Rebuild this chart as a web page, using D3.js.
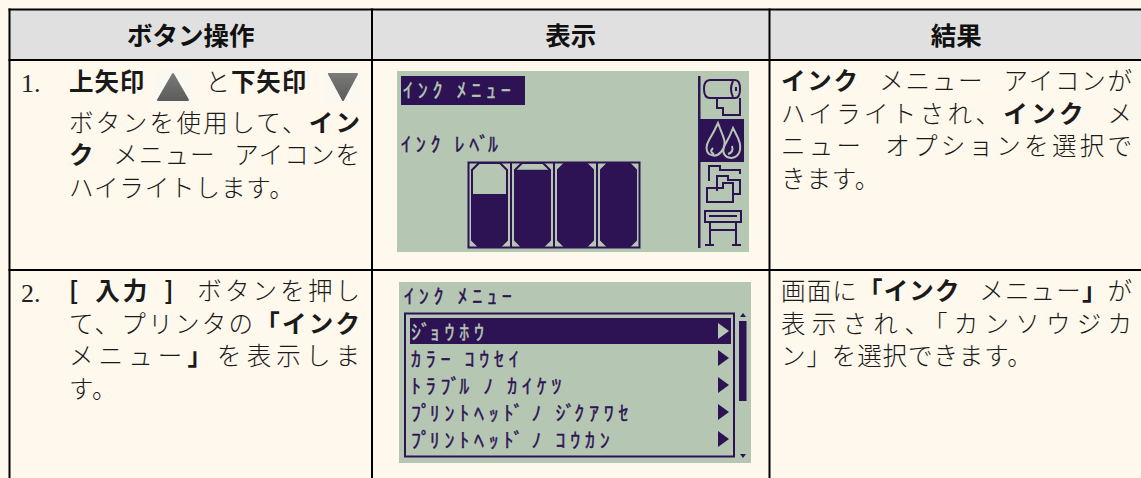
<!DOCTYPE html>
<html lang="ja">
<head>
<meta charset="utf-8">
<script src="https://cdn.jsdelivr.net/npm/d3@7/dist/d3.min.js"></script>
<style>
html, body { margin: 0; padding: 0; background: #fff8ec; overflow: hidden; }
svg { display: block; }
text { white-space: pre; }
.body { font-family: "Noto Sans CJK JP", sans-serif; font-size: 24.5px; letter-spacing: 0.9px; font-weight: 300; fill: #1a1a1a; word-spacing: 12px; }
.num { font-family: "Liberation Serif", serif; font-size: 26px; fill: #222; }
.head { font-family: "Noto Sans CJK JP", sans-serif; font-size: 25.5px; font-weight: 700; fill: #111; text-anchor: middle; }
.lcd { font-family: "Noto Sans CJK JP", sans-serif; font-size: 20px; letter-spacing: 4.75px; }
</style>
</head>
<body>
<div id="chart"></div>
<script>
// text of the table, **...** marks the bold runs
var headers = ["ボタン操作", "表示", "結果"];
var rowNumbers = ["1.", "2."];
var actionLines = [
    ["**上矢印** と**下矢印**", "ボタンを使用して、**イン**", "**ク** メニュー アイコンを", "ハイライトします。"],
    ["**[ 入力 ]** ボタンを押し", "て、プリンタの**「インク**", "メニュー**」**を表示しま", "す。"]
];
var resultLines = [
    ["**インク** メニュー アイコンが", "ハイライトされ、**インク** メ", "ニュー オプションを選択で", "きます。"],
    ["画面に**「インク** メニュー**」**が", "表示され、「カンソウジカ", "ン」を選択できます。"]
];

// display contents
var menuTitle = "ｲﾝｸ ﾒﾆｭｰ";
var levelLabel = "ｲﾝｸ ﾚﾍﾞﾙ";
var inkLevels = [0.63, 0.92, 1, 1];
var menuItems = ["ｼﾞｮｳﾎｳ", "ｶﾗｰ ｺｳｾｲ", "ﾄﾗﾌﾞﾙ ﾉ ｶｲｹﾂ", "ﾌﾟﾘﾝﾄﾍｯﾄﾞ ﾉ ｼﾞｸｱﾜｾ", "ﾌﾟﾘﾝﾄﾍｯﾄﾞ ﾉ ｺｳｶﾝ"];
var selectedItem = 0;

var width = 1141, height = 478;
var lcdBg = "#b5c7b3", lcdInk = "#2d1254";

var svg = d3.select("#chart").append("svg")
    .attr("width", width)
    .attr("height", height);

// table frame
var colEdges = [9.5, 372, 769.5, 1160];
var rowEdges = [9.5, 60, 270, 490];

svg.append("rect")
    .attr("x", colEdges[0]).attr("y", rowEdges[0])
    .attr("width", width).attr("height", rowEdges[1] - rowEdges[0])
    .attr("fill", "#e0e0e0");

svg.selectAll("line.h")
    .data(rowEdges.slice(0, 3))
    .enter().append("line")
    .attr("x1", colEdges[0] - 1).attr("x2", width)
    .attr("y1", function(d) { return d; }).attr("y2", function(d) { return d; })
    .attr("stroke", "#000").attr("stroke-width", 2);

svg.selectAll("line.v")
    .data(colEdges.slice(0, 3))
    .enter().append("line")
    .attr("y1", rowEdges[0] - 1).attr("y2", height)
    .attr("x1", function(d) { return d; }).attr("x2", function(d) { return d; })
    .attr("stroke", "#000").attr("stroke-width", 2);

svg.selectAll("text.head")
    .data(headers)
    .enter().append("text")
    .attr("class", "head")
    .attr("x", function(d, i) { return (colEdges[i] + Math.min(colEdges[i + 1], 1141)) / 2 + (i == 2 ? 1 : 0); })
    .attr("y", 45)
    .text(function(d) { return d; });

// one line of body text, stretched when it has to fill the column
function addLine(x, y, str, fill) {
    var t = svg.append("text").attr("class", "body").attr("x", x).attr("y", y);
    str.split("**").forEach(function(run, i) {
        if (!run) return;
        var s = t.append("tspan")
            .attr("font-weight", i % 2 ? 700 : null)
            .text(run);
        if (run.charAt(0) == "[") s.style("word-spacing", "5px");
    });
    if (fill) t.attr("textLength", fill).attr("lengthAdjust", "spacing");
    return t;
}

var actionX = 69, actionW = 292;
var resultX = 781, resultW = 352;
var lineH = 32.6;
var rowBase = [90, 300];

rowNumbers.forEach(function(n, r) {
    svg.append("text").attr("class", "num").attr("x", 21).attr("y", rowBase[r] + 2).text(n);

    actionLines[r].forEach(function(str, i) {
        var extra = (r == 0 && i > 0) ? 8 : 0;
        var last = i == actionLines[r].length - 1;
        var t = addLine(actionX, rowBase[r] + (r == 0 ? 1 : 0) + extra + i * lineH, str,
            (r == 0 && i == 0) || last ? null : actionW);
        if (r == 0 && i == 0) t.style("word-spacing", "54px");
    });

    resultLines[r].forEach(function(str, i) {
        var last = i == resultLines[r].length - 1;
        addLine(resultX, rowBase[r] + i * lineH, str, last ? null : resultW);
    });
});

// arrow button icons
var arrows = svg.append("defs").append("linearGradient")
    .attr("id", "arrowFill").attr("x1", 0).attr("x2", 0).attr("y1", 0).attr("y2", 1);
arrows.append("stop").attr("offset", 0).attr("stop-color", "#7a7a78");
arrows.append("stop").attr("offset", 1).attr("stop-color", "#5c5c5c");

[{x: 154, w: 38, up: true}, {x: 325, w: 36, up: false}].forEach(function(b) {
    svg.append("rect").attr("x", b.x).attr("y", 70).attr("width", b.w).attr("height", 35).attr("fill", "#fbf8f1");
    var cx = b.x + b.w / 2;
    var pts = b.up
        ? [[cx, 74], [cx + 15, 100], [cx - 15, 100]]
        : [[cx - 14, 74], [cx + 14, 74], [cx, 100]];
    svg.append("path")
        .attr("d", "M" + pts.join("L") + "Z")
        .attr("fill", "url(#arrowFill)")
        .attr("stroke", "url(#arrowFill)")
        .attr("stroke-width", 2)
        .attr("stroke-linejoin", "round");
});

// display text: the kana after a sound mark is pulled back towards it
function lcdText(sel, x, y, fill, str) {
    var chars = str.split("");
    return sel.append("text").attr("class", "lcd").attr("x", x).attr("y", y)
        .attr("fill", fill).attr("stroke", fill).attr("stroke-width", 0.4)
        .attr("dx", chars.map(function(c, i) { return chars[i - 1] == "ﾞ" || chars[i - 1] == "ﾟ" ? -6 : 0; }).join(" "))
        .text(str);
}

// first display: ink levels
var lcd1 = svg.append("g");
lcd1.append("rect").attr("x", 397).attr("y", 71).attr("width", 352).attr("height", 181).attr("fill", lcdBg);
lcd1.append("rect").attr("x", 401).attr("y", 76).attr("width", 124).attr("height", 29).attr("fill", lcdInk);
lcdText(lcd1, 403, 98, lcdBg, menuTitle);
lcdText(lcd1, 401, 152, lcdInk, levelLabel);

var cartX = d3.scaleBand().domain(d3.range(inkLevels.length)).range([468, 640]).paddingInner(0);
var inkY = d3.scaleLinear().domain([0, 1]).range([247, 163]);

lcd1.append("rect").attr("x", 468.5).attr("y", 162.5).attr("width", 171).attr("height", 85)
    .attr("fill", "none").attr("stroke", lcdInk).attr("stroke-width", 2);

inkLevels.forEach(function(level, i) {
    var x0 = cartX(i) + 4, x1 = cartX(i) + cartX.bandwidth() - 4;
    var c = 7;
    var outline = "M" + [
        [x0 + c, inkY(1)], [x1 - c, inkY(1)], [x1, inkY(1) + c], [x1, inkY(0) - c],
        [x1 - c, inkY(0)], [x0 + c, inkY(0)], [x0, inkY(0) - c], [x0, inkY(1) + c]
    ].join("L") + "Z";
    svg.append("clipPath").attr("id", "ink" + i)
        .append("rect")
        .attr("x", cartX(i)).attr("width", cartX.bandwidth())
        .attr("y", inkY(level)).attr("height", inkY(0) - inkY(level) + 3);
    if (i > 0) {
        lcd1.append("line")
            .attr("x1", cartX(i)).attr("x2", cartX(i))
            .attr("y1", 162).attr("y2", 248)
            .attr("stroke", lcdInk).attr("stroke-width", 2);
    }
    lcd1.append("path").attr("d", outline).attr("fill", "none").attr("stroke", lcdInk).attr("stroke-width", 2);
    lcd1.append("path").attr("d", outline).attr("fill", lcdInk).attr("clip-path", "url(#ink" + i + ")");
});

// side icons of the first display
lcd1.append("rect").attr("x", 698).attr("y", 76).attr("width", 2.5).attr("height", 172).attr("fill", lcdInk);
lcd1.append("rect").attr("x", 700).attr("y", 119).attr("width", 44).attr("height", 43).attr("fill", lcdInk);

var icon = lcd1.append("g").attr("fill", "none").attr("stroke-width", 2).attr("stroke", lcdInk);
// paper roll
icon.append("path").attr("d", "M710 80H735Q740 80 740 89Q740 98 735 98H710Q704 98 704 89Q704 80 710 80Z");
icon.append("path").attr("d", "M733 81Q729 89 733 97M736 87V91");
icon.append("path").attr("d", "M717 98V108H723V115H740V98");
// folders
icon.append("path").attr("d", "M709 181V166H720V170H740V174");
icon.append("path").attr("d", "M717 191V176H728V180H740V194H733");
icon.append("path").attr("d", "M707 202V188H723V183H733V202Z");
// plotter
icon.append("path").attr("d", "M705 211H741V222H705ZM709 216H737M710 222V245M736 222V245M705 245H714M732 245H741M710 230H736");
// ink drops
icon.append("path").attr("stroke", lcdBg)
    .attr("d", "M718 123Q714 132 709 140Q704 149 709 154Q716 158 721 152Q727 145 723 136ZM733 128Q730 136 726 143Q720 152 727 157Q735 160 739 153Q742 147 738 138ZM713 148Q709 152 714 154M732 146Q734 152 728 154");

// second display: menu list
var lcd2 = svg.append("g");
lcd2.append("rect").attr("x", 399).attr("y", 282).attr("width", 352).attr("height", 181).attr("fill", lcdBg);
lcdText(lcd2, 404, 304, lcdInk, menuTitle);
lcd2.append("rect").attr("x", 405).attr("y", 313.5).attr("width", 329).attr("height", 143)
    .attr("fill", "none").attr("stroke", lcdInk).attr("stroke-width", 2);

var itemY = d3.scaleBand().domain(d3.range(menuItems.length)).range([318, 453]);

menuItems.forEach(function(d, i) {
    var g = lcd2.append("g").attr("transform", "translate(0," + itemY(i) + ")");
    var colour = i == selectedItem ? lcdBg : lcdInk;
    if (i == selectedItem) {
        g.append("rect").attr("x", 410).attr("width", 321).attr("height", itemY.bandwidth() - 1).attr("fill", lcdInk);
    }
    lcdText(g, 411, 22, colour, d);
    g.append("path").attr("d", "M718 5L729 13L718 21Z").attr("fill", colour);
});

// scroll bar
lcd2.append("rect").attr("x", 739).attr("y", 321).attr("width", 7.5).attr("height", 80).attr("fill", lcdInk);
lcd2.append("path").attr("d", "M743 313L746 317H740Z").attr("fill", lcdInk);
lcd2.append("path").attr("d", "M743 458L746 454H740Z").attr("fill", lcdInk);
</script>
</body>
</html>
